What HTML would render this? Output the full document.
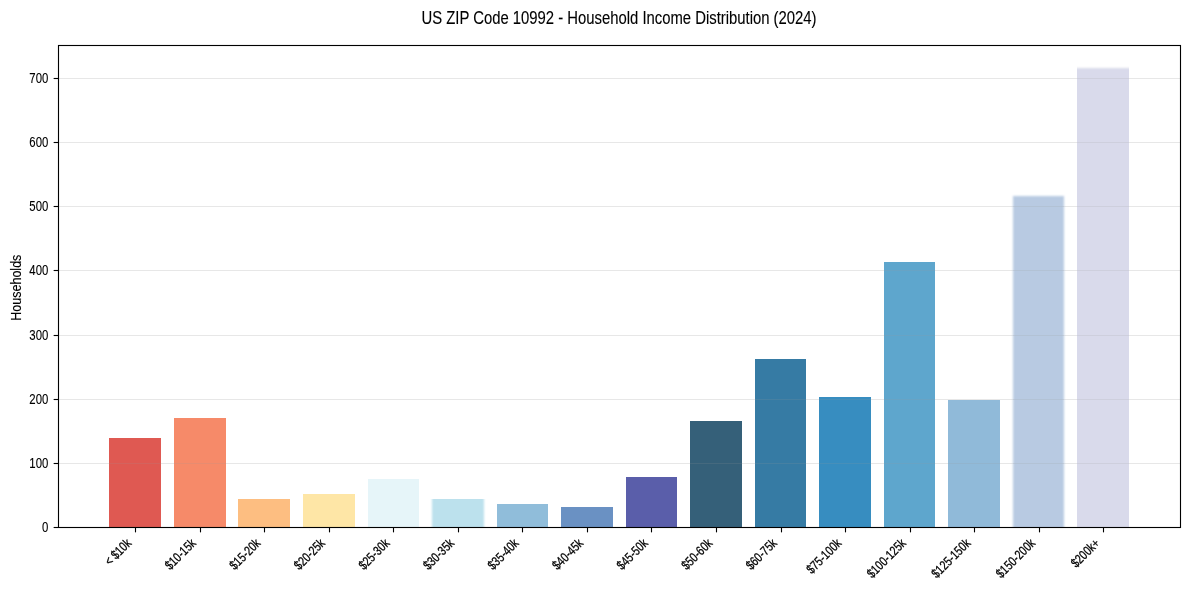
<!DOCTYPE html>
<html lang="en"><head><meta charset="utf-8"><title>US ZIP Code 10992 - Household Income Distribution (2024)</title>
<style>html,body{margin:0;padding:0;background:#fff;overflow:hidden}svg{display:block}text{font-family:"Liberation Sans", Arial, sans-serif;fill:#000;stroke:#000;stroke-width:0.12px}.xt{stroke-width:0.28px}</style></head><body>
<svg width="1189" height="590" viewBox="0 0 1189 590">
<rect x="0" y="0" width="1189" height="590" fill="#fff"/>
<g stroke="#b0b0b0" stroke-opacity="0.3" stroke-width="1.11">
<line x1="58.5" x2="1180.5" y1="527.5" y2="527.5"/>
<line x1="58.5" x2="1180.5" y1="463.5" y2="463.5"/>
<line x1="58.5" x2="1180.5" y1="399.5" y2="399.5"/>
<line x1="58.5" x2="1180.5" y1="335.5" y2="335.5"/>
<line x1="58.5" x2="1180.5" y1="270.5" y2="270.5"/>
<line x1="58.5" x2="1180.5" y1="206.5" y2="206.5"/>
<line x1="58.5" x2="1180.5" y1="142.5" y2="142.5"/>
<line x1="58.5" x2="1180.5" y1="78.5" y2="78.5"/>
</g>
<defs><filter id="bx" x="-20%" y="-5%" width="140%" height="110%"><feGaussianBlur stdDeviation="1.1 0"/></filter><filter id="by" x="-10%" y="-5%" width="120%" height="110%"><feGaussianBlur stdDeviation="0.3 0.9"/></filter><filter id="bz" x="-10%" y="-5%" width="120%" height="110%"><feGaussianBlur stdDeviation="0.9 0.9"/></filter><clipPath id="cp"><rect x="59" y="46" width="1121" height="481"/></clipPath></defs>
<g fill-opacity="0.8" clip-path="url(#cp)">
<rect x="109" y="438" width="52" height="97" fill="#d73027" shape-rendering="crispEdges"/>
<rect x="174" y="418" width="52" height="117" fill="#f46d43" shape-rendering="crispEdges"/>
<rect x="238" y="499" width="52" height="36" fill="#fdae61" shape-rendering="crispEdges"/>
<rect x="303" y="494" width="52" height="41" fill="#fee090" shape-rendering="crispEdges"/>
<rect x="368" y="479" width="51" height="56" fill="#e0f3f8" shape-rendering="crispEdges"/>
<rect x="432" y="499" width="52" height="36" fill="#abd9e9" filter="url(#bx)"/>
<rect x="497" y="504" width="51" height="31" fill="#74add1" shape-rendering="crispEdges"/>
<rect x="561" y="507" width="52" height="28" fill="#4575b4" shape-rendering="crispEdges"/>
<rect x="626" y="477" width="51" height="58" fill="#313695" shape-rendering="crispEdges"/>
<rect x="690" y="421" width="52" height="114" fill="#023858" shape-rendering="crispEdges"/>
<rect x="755" y="359" width="51" height="176" fill="#045a8d" shape-rendering="crispEdges"/>
<rect x="819" y="397" width="52" height="138" fill="#0570b0" shape-rendering="crispEdges"/>
<rect x="884" y="262" width="51" height="273" fill="#3690c0" shape-rendering="crispEdges"/>
<rect x="948" y="400" width="52" height="135" fill="#74a9cf" shape-rendering="crispEdges"/>
<rect x="1013" y="196" width="51" height="339" fill="#a6bddb" filter="url(#bz)"/>
<rect x="1077" y="68" width="52" height="467" fill="#d0d1e6" filter="url(#by)"/>
</g>
<g stroke="#b0b0b0" stroke-opacity="0.17" stroke-width="1.11">
<line x1="109" x2="161" y1="463.5" y2="463.5"/>
<line x1="174" x2="226" y1="463.5" y2="463.5"/>
<line x1="690" x2="742" y1="463.5" y2="463.5"/>
<line x1="755" x2="806" y1="463.5" y2="463.5"/>
<line x1="819" x2="871" y1="463.5" y2="463.5"/>
<line x1="884" x2="935" y1="463.5" y2="463.5"/>
<line x1="948" x2="1000" y1="463.5" y2="463.5"/>
<line x1="1013" x2="1064" y1="463.5" y2="463.5"/>
<line x1="1077" x2="1129" y1="463.5" y2="463.5"/>
<line x1="755" x2="806" y1="399.5" y2="399.5"/>
<line x1="819" x2="871" y1="399.5" y2="399.5"/>
<line x1="884" x2="935" y1="399.5" y2="399.5"/>
<line x1="1013" x2="1064" y1="399.5" y2="399.5"/>
<line x1="1077" x2="1129" y1="399.5" y2="399.5"/>
<line x1="884" x2="935" y1="335.5" y2="335.5"/>
<line x1="1013" x2="1064" y1="335.5" y2="335.5"/>
<line x1="1077" x2="1129" y1="335.5" y2="335.5"/>
<line x1="884" x2="935" y1="270.5" y2="270.5"/>
<line x1="1013" x2="1064" y1="270.5" y2="270.5"/>
<line x1="1077" x2="1129" y1="270.5" y2="270.5"/>
<line x1="1013" x2="1064" y1="206.5" y2="206.5"/>
<line x1="1077" x2="1129" y1="206.5" y2="206.5"/>
<line x1="1077" x2="1129" y1="142.5" y2="142.5"/>
<line x1="1077" x2="1129" y1="78.5" y2="78.5"/>
</g>
<g stroke="#000" stroke-width="1.11">
<line x1="53.64" x2="58.5" y1="527.5" y2="527.5"/>
<line x1="53.64" x2="58.5" y1="463.5" y2="463.5"/>
<line x1="53.64" x2="58.5" y1="399.5" y2="399.5"/>
<line x1="53.64" x2="58.5" y1="335.5" y2="335.5"/>
<line x1="53.64" x2="58.5" y1="270.5" y2="270.5"/>
<line x1="53.64" x2="58.5" y1="206.5" y2="206.5"/>
<line x1="53.64" x2="58.5" y1="142.5" y2="142.5"/>
<line x1="53.64" x2="58.5" y1="78.5" y2="78.5"/>
<line x1="135.5" x2="135.5" y1="527.5" y2="532.36"/>
<line x1="200.5" x2="200.5" y1="527.5" y2="532.36"/>
<line x1="264.5" x2="264.5" y1="527.5" y2="532.36"/>
<line x1="329.5" x2="329.5" y1="527.5" y2="532.36"/>
<line x1="393.5" x2="393.5" y1="527.5" y2="532.36"/>
<line x1="458.5" x2="458.5" y1="527.5" y2="532.36"/>
<line x1="522.5" x2="522.5" y1="527.5" y2="532.36"/>
<line x1="587.5" x2="587.5" y1="527.5" y2="532.36"/>
<line x1="651.5" x2="651.5" y1="527.5" y2="532.36"/>
<line x1="716.5" x2="716.5" y1="527.5" y2="532.36"/>
<line x1="781.5" x2="781.5" y1="527.5" y2="532.36"/>
<line x1="845.5" x2="845.5" y1="527.5" y2="532.36"/>
<line x1="910.5" x2="910.5" y1="527.5" y2="532.36"/>
<line x1="974.5" x2="974.5" y1="527.5" y2="532.36"/>
<line x1="1039.5" x2="1039.5" y1="527.5" y2="532.36"/>
<line x1="1103.5" x2="1103.5" y1="527.5" y2="532.36"/>
</g>
<rect x="58.5" y="45.5" width="1122.0" height="482.0" fill="none" stroke="#000" stroke-width="1.11"/>
<text transform="translate(48.3,532.40) scale(0.7748,1)" font-size="14.7" text-anchor="end">0</text>
<text transform="translate(48.3,468.40) scale(0.7748,1)" font-size="14.7" text-anchor="end">100</text>
<text transform="translate(48.3,404.40) scale(0.7748,1)" font-size="14.7" text-anchor="end">200</text>
<text transform="translate(48.3,340.40) scale(0.7748,1)" font-size="14.7" text-anchor="end">300</text>
<text transform="translate(48.3,275.40) scale(0.7748,1)" font-size="14.7" text-anchor="end">400</text>
<text transform="translate(48.3,211.40) scale(0.7748,1)" font-size="14.7" text-anchor="end">500</text>
<text transform="translate(48.3,147.40) scale(0.7748,1)" font-size="14.7" text-anchor="end">600</text>
<text transform="translate(48.3,83.40) scale(0.7748,1)" font-size="14.7" text-anchor="end">700</text>
<text transform="translate(132.10,544.10) rotate(-45) scale(0.7843,1)" class="xt" font-size="13.2" text-anchor="end">&lt; $10k</text>
<text transform="translate(196.66,544.10) rotate(-45) scale(0.7843,1)" class="xt" font-size="13.2" text-anchor="end">$10-15k</text>
<text transform="translate(261.21,544.10) rotate(-45) scale(0.7843,1)" class="xt" font-size="13.2" text-anchor="end">$15-20k</text>
<text transform="translate(325.77,544.10) rotate(-45) scale(0.7843,1)" class="xt" font-size="13.2" text-anchor="end">$20-25k</text>
<text transform="translate(390.33,544.10) rotate(-45) scale(0.7843,1)" class="xt" font-size="13.2" text-anchor="end">$25-30k</text>
<text transform="translate(454.89,544.10) rotate(-45) scale(0.7843,1)" class="xt" font-size="13.2" text-anchor="end">$30-35k</text>
<text transform="translate(519.44,544.10) rotate(-45) scale(0.7843,1)" class="xt" font-size="13.2" text-anchor="end">$35-40k</text>
<text transform="translate(584.00,544.10) rotate(-45) scale(0.7843,1)" class="xt" font-size="13.2" text-anchor="end">$40-45k</text>
<text transform="translate(648.56,544.10) rotate(-45) scale(0.7843,1)" class="xt" font-size="13.2" text-anchor="end">$45-50k</text>
<text transform="translate(713.11,544.10) rotate(-45) scale(0.7843,1)" class="xt" font-size="13.2" text-anchor="end">$50-60k</text>
<text transform="translate(777.67,544.10) rotate(-45) scale(0.7843,1)" class="xt" font-size="13.2" text-anchor="end">$60-75k</text>
<text transform="translate(842.23,544.10) rotate(-45) scale(0.7843,1)" class="xt" font-size="13.2" text-anchor="end">$75-100k</text>
<text transform="translate(906.78,544.10) rotate(-45) scale(0.7843,1)" class="xt" font-size="13.2" text-anchor="end">$100-125k</text>
<text transform="translate(971.34,544.10) rotate(-45) scale(0.7843,1)" class="xt" font-size="13.2" text-anchor="end">$125-150k</text>
<text transform="translate(1035.90,544.10) rotate(-45) scale(0.7843,1)" class="xt" font-size="13.2" text-anchor="end">$150-200k</text>
<text transform="translate(1100.45,544.10) rotate(-45) scale(0.7843,1)" class="xt" font-size="13.2" text-anchor="end">$200k+</text>
<text transform="translate(21.3,287.7) rotate(-90) scale(0.82,1)" font-size="15.28" text-anchor="middle">Households</text>
<text transform="translate(619,23.8) scale(0.8029,1)" font-size="18.5" text-anchor="middle">US ZIP Code 10992 - Household Income Distribution (2024)</text>
</svg></body></html>
